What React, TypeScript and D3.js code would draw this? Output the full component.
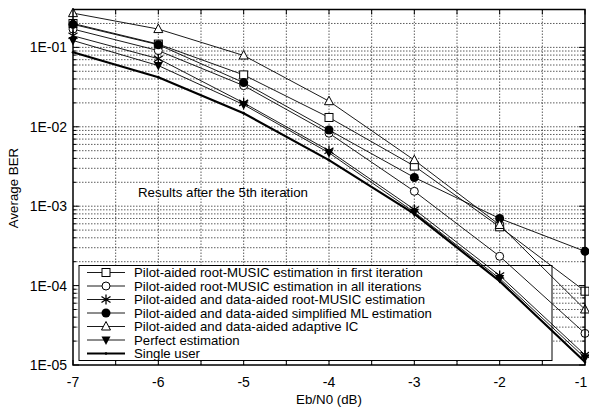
import React from 'react';
import * as d3 from 'd3';

const snr = [-7, -6, -5, -4, -3, -2, -1];

const firstIter = [0.2, 0.11, 0.045, 0.0131, 0.0032, 0.00055, 0.000085];
const allIter = [0.17, 0.091, 0.033, 0.0083, 0.00154, 0.000234, 0.000025];
const rootMusic = [0.14, 0.072, 0.02, 0.005, 0.00091, 0.000134, 0.0000134];
const simplifiedML = [0.195, 0.108, 0.036, 0.0091, 0.0023, 0.0007, 0.00027];
const adaptiveIC = [0.27, 0.17, 0.079, 0.021, 0.0038, 0.00058, 0.00005];
const perfect = [0.122, 0.059, 0.019, 0.0047, 0.00084, 0.000123, 0.0000123];
const singleUser = [0.087, 0.042, 0.0148, 0.0038, 0.0008, 0.000114, 0.0000109];

const seriesNames = [
  'Pilot-aided root-MUSIC estimation in first iteration',
  'Pilot-aided root-MUSIC estimation in all iterations',
  'Pilot-aided and data-aided root-MUSIC estimation',
  'Pilot-aided and data-aided simplified ML estimation',
  'Pilot-aided and data-aided adaptive IC',
  'Perfect estimation',
  'Single user',
];
const seriesMarkers = ['square', 'circle', 'star', 'dot', 'triangle', 'down', 'small'];
const seriesValues = [firstIter, allIter, rootMusic, simplifiedML, adaptiveIC, perfect, singleUser];

const yTickLabels = ['1E-05', '1E-04', '1E-03', '1E-02', '1E-01'];
const xTickValues = [-7, -6, -5, -4, -3, -2, -1];

const W = 589;
const H = 408;
const left = 73, right = 585, top = 9.5, bottom = 365;
const font = '"Liberation Sans", Arial, sans-serif';

const x = d3.scaleLinear().domain([-7, -1]).range([left, right]);
const y = d3.scaleLog().domain([1e-5, 0.3]).range([bottom, top]);

function Marker({ kind, cx, cy }: { kind: string; cx: number; cy: number }) {
  const s = 4;
  if (kind === 'square')
    return <rect x={cx - s} y={cy - s} width={2 * s} height={2 * s} fill="white" stroke="black" strokeWidth={1} />;
  if (kind === 'circle')
    return <circle cx={cx} cy={cy} r={s} fill="white" stroke="black" strokeWidth={1} />;
  if (kind === 'dot')
    return <circle cx={cx} cy={cy} r={4.5} fill="black" />;
  if (kind === 'triangle')
    return <path d={`M${cx},${cy - 5}L${cx + 4.5},${cy + 3.5}L${cx - 4.5},${cy + 3.5}Z`} fill="white" stroke="black" strokeWidth={1} />;
  if (kind === 'down')
    return <path d={`M${cx - 4.5},${cy - 3.5}L${cx + 4.5},${cy - 3.5}L${cx},${cy + 5}Z`} fill="black" />;
  if (kind === 'star')
    return (
      <path
        d={`M${cx},${cy - 5}L${cx},${cy + 5}M${cx - 4.5},${cy - 3}L${cx + 4.5},${cy + 3}M${cx - 4.5},${cy + 3}L${cx + 4.5},${cy - 3}`}
        stroke="black" strokeWidth={1.3} fill="none"
      />
    );
  return <circle cx={cx} cy={cy} r={1.3} fill="black" />;
}

export default function App() {
  const line = d3.line<number>().x((_, i) => x(snr[i])).y(d => y(d));

  const logTicks: { v: number; major: boolean }[] = [];
  for (let k = -5; k <= -1; k++) {
    for (let m = 1; m <= 9; m++) {
      const v = m * Math.pow(10, k);
      if (v <= 0.3 + 1e-9) logTicks.push({ v, major: m === 1 });
    }
  }
  const halfTicks = d3.range(-7, -0.99, 0.5);

  const legX = 79, legY = 265.5, legW = 473, legH = 95;
  const rowY = (i: number) => 272.5 + i * 13.5;

  return (
    <svg width={W} height={H} style={{ position: 'absolute', left: 0, top: 0, background: 'white' }} fontFamily={font}>
      <rect x={0} y={0} width={W} height={H} fill="white" />
      {/* grid */}
      <g stroke="#333" strokeWidth={0.8} strokeDasharray="1.5,1.5">
        {halfTicks.slice(1, -1).map(t => (
          <line key={'vx' + t} x1={x(t)} x2={x(t)} y1={top} y2={bottom} />
        ))}
        {logTicks.slice(1).map(t => (
          <line key={'hy' + t.v} x1={left} x2={right} y1={y(t.v)} y2={y(t.v)} />
        ))}
      </g>
      {/* ticks */}
      <g stroke="black" strokeWidth={1}>
        {logTicks.map(t => (
          <g key={'t' + t.v}>
            <line x1={left} x2={left + (t.major ? 6 : 3)} y1={y(t.v)} y2={y(t.v)} />
            <line x1={right} x2={right - (t.major ? 6 : 3)} y1={y(t.v)} y2={y(t.v)} />
          </g>
        ))}
        {halfTicks.map(t => (
          <g key={'b' + t}>
            <line x1={x(t)} x2={x(t)} y1={bottom} y2={bottom - 5} />
            <line x1={x(t)} x2={x(t)} y1={top} y2={top + 5} />
          </g>
        ))}
      </g>
      {/* legend box (under the curves) */}
      <rect x={legX} y={legY} width={legW} height={legH} fill="white" stroke="black" strokeWidth={1} />
      {/* series */}
      {seriesValues.map((vals, si) => (
        <path key={'l' + si} d={line(vals) || ''} fill="none" stroke="black" strokeWidth={si === 6 ? 2.2 : 0.9} />
      ))}
      {seriesValues.map((vals, si) =>
        vals.map((v, i) => <Marker key={'m' + si + '-' + i} kind={seriesMarkers[si]} cx={x(snr[i])} cy={y(v)} />)
      )}
      {/* frame */}
      <rect x={left} y={top} width={right - left} height={bottom - top} fill="none" stroke="black" strokeWidth={1.5} />
      {/* legend entries */}
      {seriesNames.map((name, i) => (
        <g key={'leg' + i}>
          <line x1={87} x2={125} y1={rowY(i)} y2={rowY(i)} stroke="black" strokeWidth={i === 6 ? 2.2 : 0.9} />
          <Marker kind={seriesMarkers[i]} cx={106} cy={rowY(i)} />
          <text x={134} y={rowY(i) + 4.6} fontSize={13.2} fill="black">{name}</text>
        </g>
      ))}
      {/* tick labels */}
      {yTickLabels.map((lab, i) => (
        <text key={lab} x={67} y={y(Math.pow(10, -5 + i)) + 5} fontSize={14} textAnchor="end" fill="black">{lab}</text>
      ))}
      {xTickValues.map(t => (
        <text key={'xl' + t} x={Math.min(x(t), W - 8)} y={387} fontSize={14} textAnchor="middle" fill="black">{t}</text>
      ))}
      <text x={138} y={197} fontSize={13.3} fill="black">Results after the 5th iteration</text>
      <text x={329} y={404} fontSize={13.3} textAnchor="middle" fill="black">Eb/N0 (dB)</text>
      <text transform={`translate(18,188) rotate(-90)`} fontSize={13.3} textAnchor="middle" fill="black">Average BER</text>
    </svg>
  );
}
